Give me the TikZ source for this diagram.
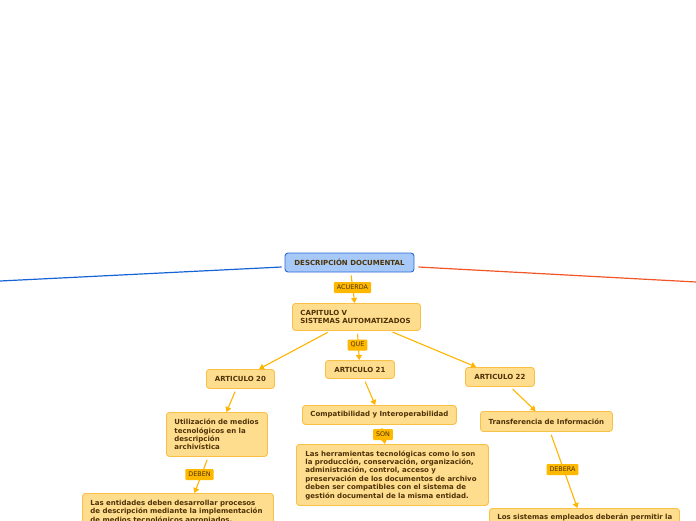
\documentclass[tikz,border=0pt]{standalone}
\usepackage{fontspec}
\setmainfont{DejaVu Sans}
\usetikzlibrary{arrows.meta,calc}
\definecolor{nodefill}{HTML}{FFDD8E}
\definecolor{nodeborder}{HTML}{F9C046}
\definecolor{linec}{HTML}{FFB400}
\definecolor{labfill}{HTML}{FFB800}
\definecolor{txt}{HTML}{4D3208}
\definecolor{bluefill}{HTML}{A6C9F8}
\definecolor{blueborder}{HTML}{2A6BD4}
\definecolor{blueline}{HTML}{1663D6}
\definecolor{redline}{HTML}{F25526}
\begin{document}
\begin{tikzpicture}[x=1pt,y=-1pt,
  box/.style={draw=nodeborder, fill=nodefill, rounded corners=3pt, line width=0.9pt,
    font=\bfseries\fontsize{7}{8.4}\selectfont, text=txt, inner xsep=8pt, inner ysep=4pt,
    align=left, anchor=north west},
  single/.style={box, minimum height=#1, align=center},
  lab/.style={fill=labfill, font=\fontsize{6.4}{7}\selectfont, text=txt, inner xsep=3pt,
    inner ysep=0pt, minimum height=11pt, rounded corners=1pt},
  conn/.style={draw=linec, line width=1.1pt, -{Triangle[length=5pt,width=6pt]}, shorten <=3pt}]
\useasboundingbox (0,0) rectangle (696,520);
\clip (0,0) rectangle (696,520);

% root
\node[draw=blueborder, fill=bluefill, rounded corners=3pt, line width=0.9pt,
  font=\bfseries\fontsize{7}{8.4}\selectfont, text=txt, minimum width=129pt,
  minimum height=19pt, inner sep=0pt] (desc) at (349.5,262.5) {DESCRIPCIÓN DOCUMENTAL};

\coordinate (leftend) at (0,281);
\coordinate (rightend) at (696,282);
\draw[blueline, line width=1.2pt] ($(desc.west)+(-3,4.5)$) -- (leftend);
\draw[redline, line width=1.2pt] ($(desc.east)+(4,4.5)$) -- (rightend);

% boxes
\node[box, text width=112pt, minimum height=27pt] (cap) at (292,303) {CAPITULO V\\SISTEMAS AUTOMATIZADOS};
\node[single=19pt, minimum width=68pt] (a20) at (206,369) {ARTICULO 20};
\node[single=18pt, minimum width=69pt] (a21) at (325,360) {ARTICULO 21};
\node[single=19pt, minimum width=69pt] (a22) at (465,367) {ARTICULO 22};
\node[box, text width=85pt, minimum height=44pt] (util) at (166,412) {Utilización de medios\\tecnológicos en la\\descripción\\archivística};
\node[box, text width=175pt, inner ysep=6.5pt] (ent) at (82,493) {Las entidades deben desarrollar procesos\\de descripción mediante la implementación\\de medios tecnológicos apropiados.};
\node[single=19pt, minimum width=153pt] (comp) at (302,405) {Compatibilidad y Interoperabilidad};
\node[box, text width=174pt, inner xsep=9pt, minimum height=61pt] (herr) at (296,444) {Las herramientas tecnológicas como lo son\\la producción, conservación, organización,\\administración, control, acceso y\\preservación de los documentos de archivo\\deben ser compatibles con el sistema de\\gestión documental de la misma entidad.};
\node[single=20pt, minimum width=132pt] (trans) at (480,411) {Transferencia de Información};
\node[box, text width=174pt, inner ysep=5pt] (sist) at (489,508) {\makebox[\linewidth][l]{Los sistemas empleados deberán permitir la}\\ \strut};

% connectors
\draw[conn] (desc) -- (cap);
\draw[conn] (cap) -- (a20);
\draw[conn] (cap) -- (a21);
\draw[conn] (cap) -- (a22);
\draw[conn] (a20) -- (util);
\draw[conn] (util) -- ($(ent.north west)!0.586!(ent.north east)$);
\draw[conn] (a21) -- (comp);
\draw[conn] (comp) -- ($(herr.north west)!0.461!(herr.north east)$);
\draw[conn] (a22) -- (trans);
\draw[conn] (trans) -- ($(sist.north west)!0.463!(sist.north east)$);

% labels
\node[lab] (l1) at (352.5,287.5) {ACUERDA};
\node[lab] (l2) at (357.5,345) {QUE};
\node[lab] (l3) at (199.5,474.5) {DEBEN};
\node[lab] (l4) at (383,434.5) {SON};
\node[lab] (l5) at (562.5,469.5) {DEBERA};
\end{tikzpicture}
\end{document}
